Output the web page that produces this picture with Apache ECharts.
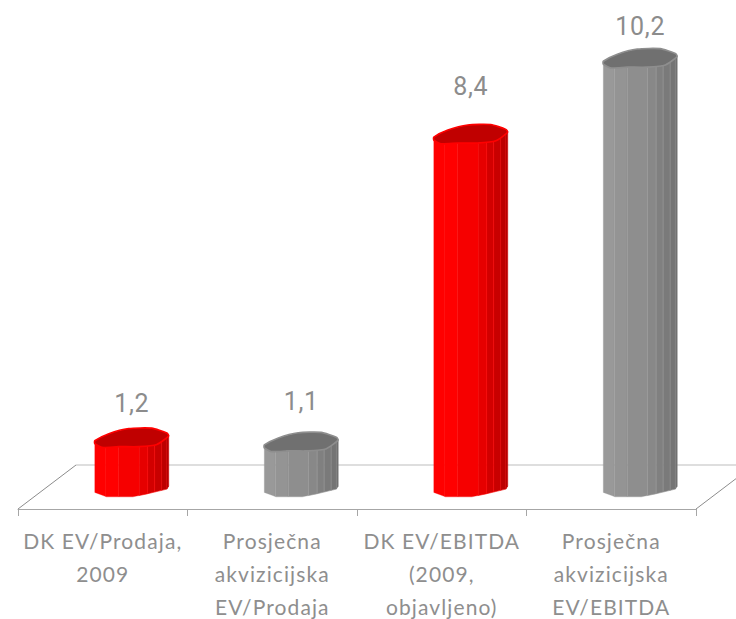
<!DOCTYPE html>
<html><head><meta charset="utf-8">
<style>
html,body{margin:0;padding:0;background:#fff}
#c{width:736px;height:619px}
#c svg text{letter-spacing:1.1px}
#c svg text[style*="Roboto"]{letter-spacing:.7px}
</style>
<script src="https://cdn.jsdelivr.net/npm/echarts@6/dist/echarts.min.js"></script>
</head><body><div id="c"></div>
<script>
var categories=['DK EV/Prodaja,\n2009','Prosječna\nakvizicijska\nEV/Prodaja','DK EV/EBITDA\n(2009,\nobjavljeno)','Prosječna\nakvizicijska\nEV/EBITDA'];
var values=[1.2,1.1,8.4,10.2];
var valueLabels=['1,2','1,1','8,4','10,2'];
var labelLift=[34,40,47,31];
var palettes={
  red:{strips:['#ff0000','#ff0000','#f60000','#e60000','#d20000','#c80000','#bc0000','#b00000'],cap:'#c00000',lip:'#ff0000'},
  gray:{strips:['#999999','#949494','#8e8e8e','#888888','#808080','#7a7a7a','#747474','#6e6e6e'],cap:'#707070',lip:'#8e8e8e'}
};
var barPalette=['red','gray','red','gray'];
var DX=29,DY=21;
var stripEdges=[-1,-0.7,-0.35,0.2,0.43,0.62,0.81,0.95,1];
var capShape=[[-1,.09],[-.62,-.1],[-.08,-.24],[.54,-.25],[.95,-.12],[1,-.04],[.68,.19],[.19,.25],[-.35,.25],[-.81,.27],[-1,.17]];
var frontEdge=[[-1,.14],[-.81,.27],[-.35,.25],[.19,.25],[.68,.19],[1,-.03]];
var bottomEdge=[[-1,.12],[-.68,.24],[.03,.24],[.41,.16],[.95,.03],[1,-.05]];
function edgeAt(p,u){for(var i=1;i<p.length;i++){if(u<=p[i][0]){var t=(u-p[i-1][0])/(p[i][0]-p[i-1][0]);return p[i-1][1]+t*(p[i][1]-p[i-1][1]);}}return p[p.length-1][1];}
function edgeRun(p,a,b){var r=[[a,edgeAt(p,a)]];p.forEach(function(q){if(q[0]>a&&q[0]<b)r.push(q);});r.push([b,edgeAt(p,b)]);return r;}
function renderCylinder(params,api){
  var i=api.value(0),v=api.value(1);
  var base=api.coord([i,0]),top=api.coord([i,v]);
  var hw=api.size([1,0])[0]*0.218;
  var cx=base[0]+DX,by=base[1]-DY,ty=top[1]-DY;
  var pal=palettes[barPalette[i]];
  var kids=[];
  pal.strips.forEach(function(col,k){
    var a=stripEdges[k],b=stripEdges[k+1],pts=[];
    edgeRun(frontEdge,a,b).forEach(function(q){pts.push([cx+q[0]*hw,ty+q[1]*hw]);});
    edgeRun(bottomEdge,a,b).reverse().forEach(function(q){pts.push([cx+q[0]*hw,by+q[1]*hw]);});
    kids.push({type:'polygon',shape:{points:pts},style:{fill:col,stroke:k>2?pal.strips[Math.max(0,k-3)]:col,lineWidth:k>2?0.6:0.3}});
  });
  kids.push({type:'polygon',shape:{points:capShape.map(function(q){return[cx+q[0]*hw,ty+q[1]*hw];}),smooth:0.2},style:{fill:pal.cap,stroke:pal.lip,lineWidth:1.6,lineJoin:'round'}});
  kids.push({type:'text',style:{text:valueLabels[i],x:cx,y:ty-labelLift[i],align:'center',verticalAlign:'middle',fill:'#8c8c8c',fontSize:25,fontFamily:'Roboto',fontWeight:400}});
  return {type:'group',children:kids};
}
function renderFloor(params,api){
  var g=params.coordSys,y=g.y+g.height,x0=g.x,x1=g.x+g.width,dx=58,dy=44;
  return {type:'group',silent:true,children:[
    {type:'line',shape:{x1:x0+dx,y1:y-dy,x2:x1+dx,y2:y-dy},style:{stroke:'#bdbdbd',lineWidth:1}},
    {type:'line',shape:{x1:x0,y1:y,x2:x0+dx,y2:y-dy},style:{stroke:'#8c8c8c',lineWidth:1}},
    {type:'line',shape:{x1:x1,y1:y,x2:x1+dx,y2:y-dy},style:{stroke:'#8c8c8c',lineWidth:1}}
  ]};
}
var chart=echarts.init(document.getElementById('c'),null,{renderer:'svg'});
chart.setOption({
  animation:false,
  backgroundColor:'#ffffff',
  grid:{left:18,right:40,top:3,bottom:110,containLabel:false,outerBoundsMode:'none'},
  xAxis:{type:'category',data:categories,
    axisLine:{lineStyle:{color:'#a6a6a6',width:1}},
    axisTick:{show:true,length:7,alignWithLabel:false,lineStyle:{color:'#a6a6a6'}},
    axisLabel:{interval:0,color:'#8e8e8e',fontFamily:'Lato, sans-serif',fontSize:21,lineHeight:33,margin:15}},
  yAxis:{type:'value',min:0,max:12,show:false},
  series:[
    {type:'custom',renderItem:renderFloor,data:[[0,0]],z:1,silent:true},
    {type:'custom',renderItem:renderCylinder,data:values.map(function(v,i){return[i,v];}),encode:{x:0,y:1},z:2,clip:false}
  ]
});
</script></body></html>
